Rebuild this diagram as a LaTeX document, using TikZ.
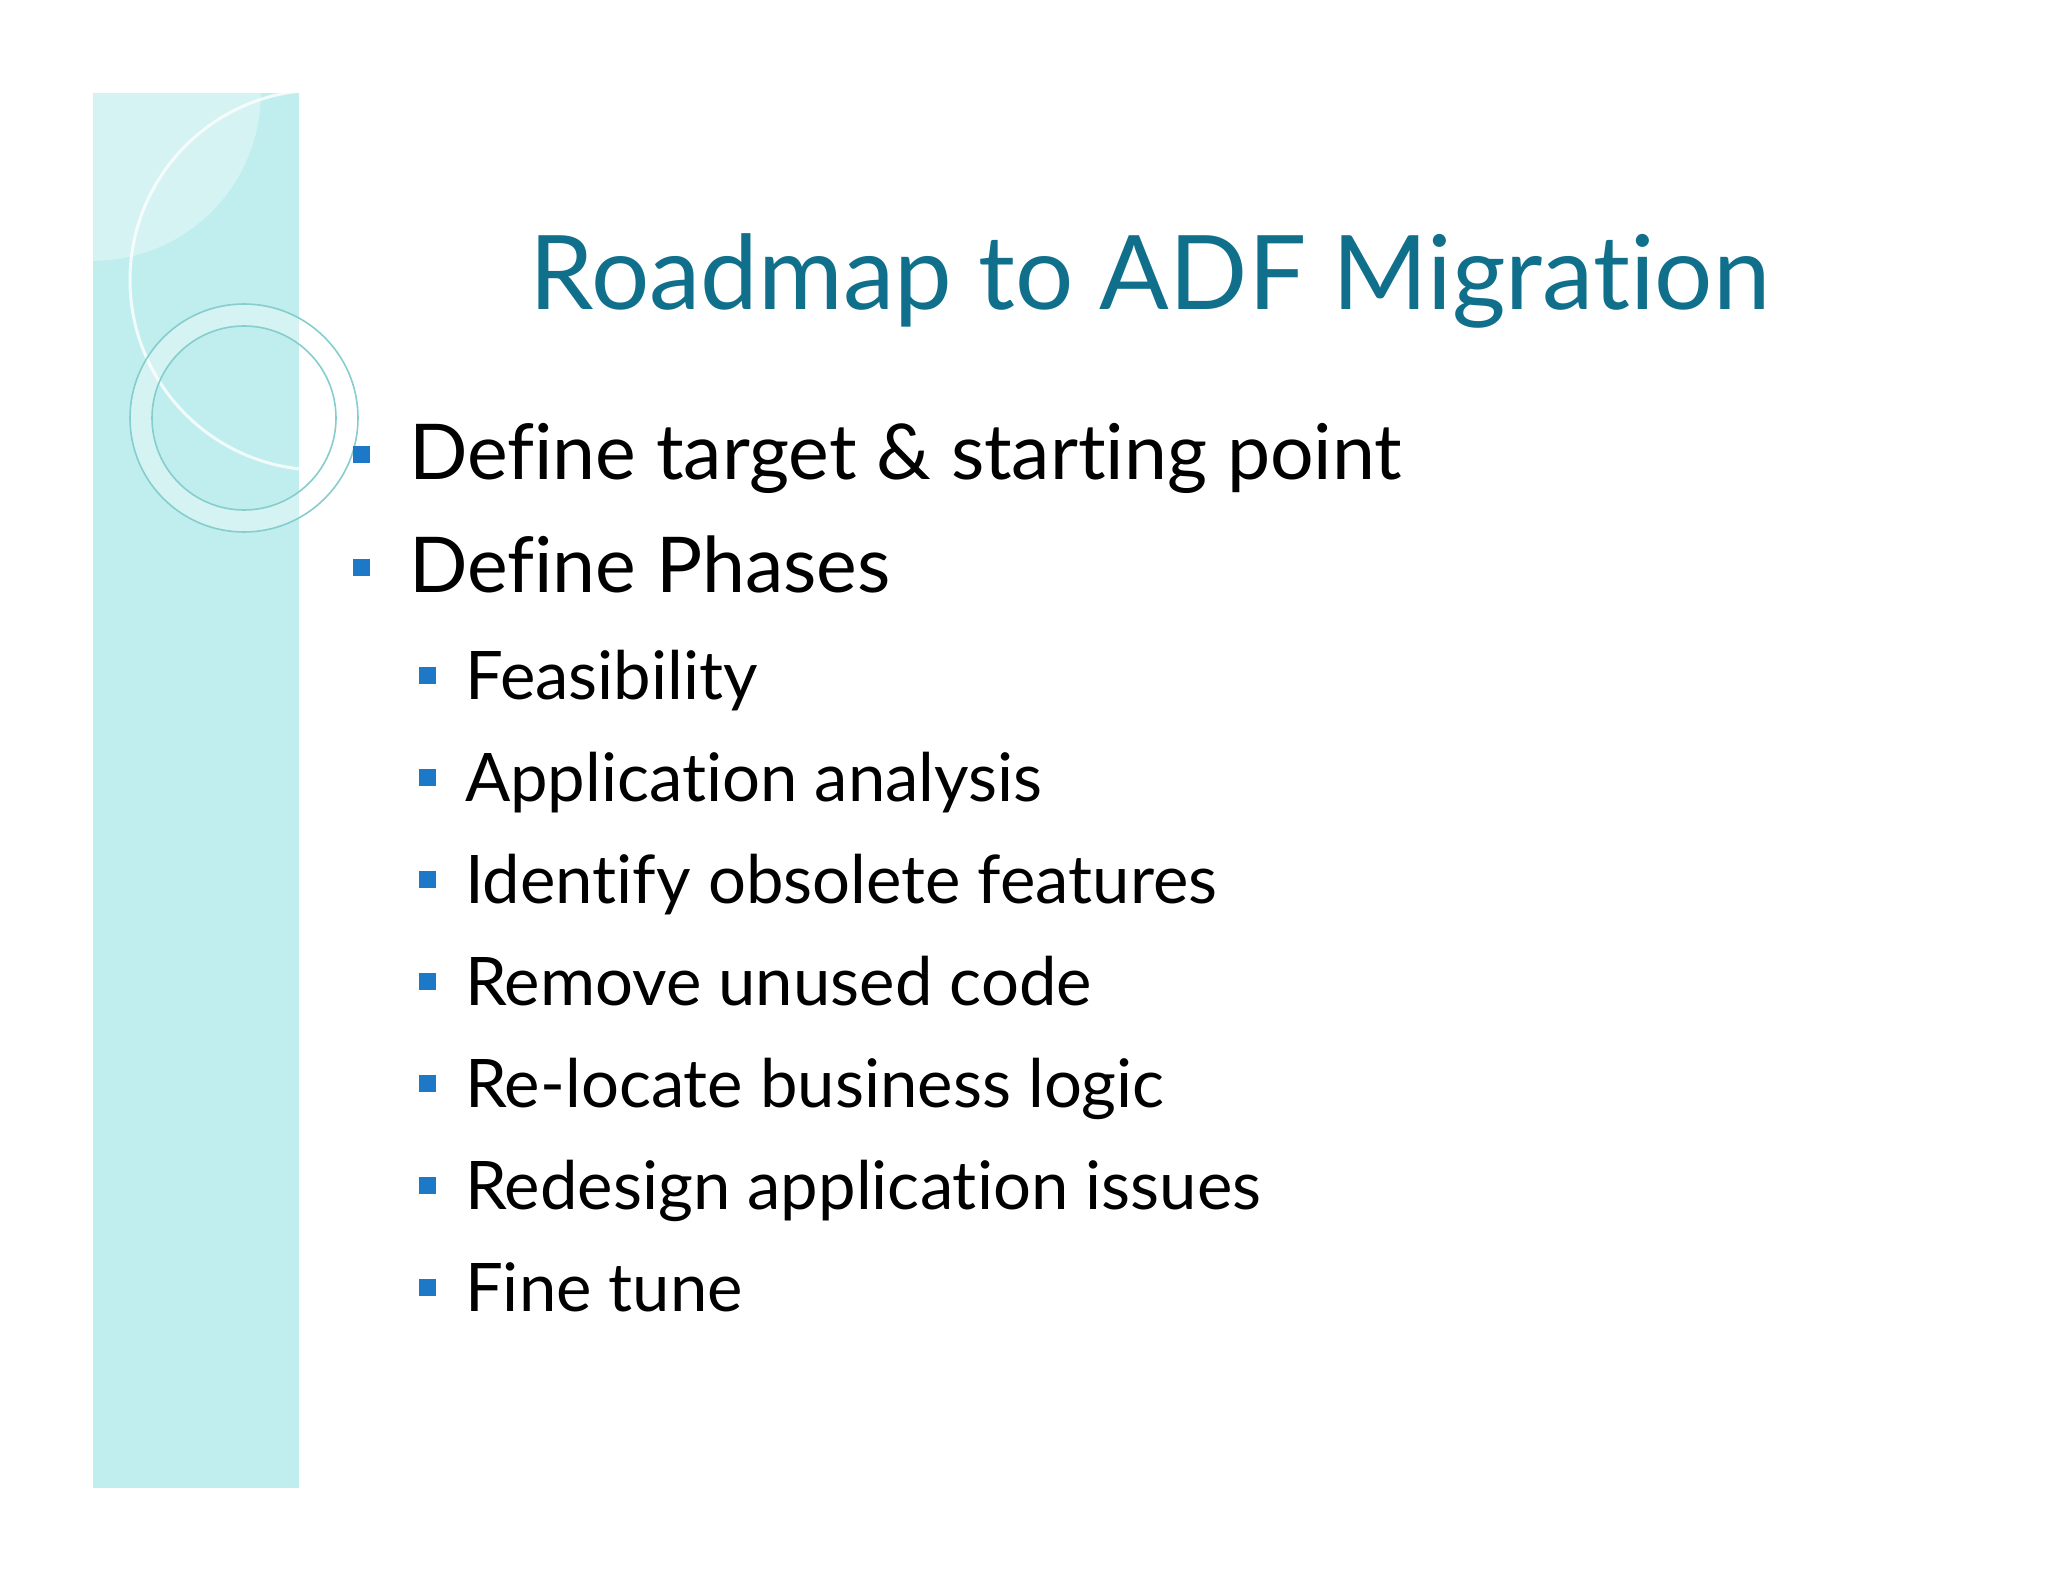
\documentclass[tikz,border=0pt]{standalone}
\usepackage{fontspec}
\setmainfont[Ligatures=NoCommon]{Lato}
\definecolor{titlec}{RGB}{16,112,140}
\definecolor{panelc}{RGB}{192,238,238}
\definecolor{bulc}{RGB}{30,120,200}
\begin{document}
\begin{tikzpicture}[x=1pt,y=-1pt,
  lone/.style={anchor=base west,font=\fontsize{38.5}{42}\selectfont},
  ltwo/.style={anchor=base west,font=\fontsize{33.5}{37}\selectfont},
  sq/.style={fill=bulc,minimum size=8.5pt,inner sep=0pt}]
\fill[white] (0,0) rectangle (1024,791);
\useasboundingbox (0,0) rectangle (1024,791);
\fill[panelc] (46.4,46.4) rectangle (149.5,743.8);
\begin{scope}
\clip (46.4,46.4) rectangle (149.5,743.8);
\fill[white,opacity=0.35] (46.4,46.4) circle (84);
\draw[white,line width=1.5pt,opacity=0.8] (160,140) circle (95);
\end{scope}
\fill[white,opacity=0.35,even odd rule] (122,209) circle (57) (122,209) circle (46);
\draw[panelc!70!teal,line width=0.8pt] (122,209) circle (57) (122,209) circle (46);
\node[anchor=base,text=titlec,font=\fontsize{51.5}{55}\selectfont] (title) at (575,155) {Roadmap to ADF Migration};
\node[sq] (b1) at (180.5,227.5) {};
\node[lone] (t1) at (201,240) {Define target \& starting point};
\node[sq] (b2) at (180.5,284) {};
\node[lone] (t2) at (201,296) {Define Phases};
\foreach \t [count=\i from 0] in {Feasibility,Application analysis,Identify obsolete features,Remove unused code,Re-locate business logic,Redesign application issues,Fine tune}{
  \node[sq] (s\i) at (213.5,{337.5+51*\i}) {};
  \node[ltwo] (u\i) at (229,{349.5+51*\i}) {\t};
}
\end{tikzpicture}
\end{document}
